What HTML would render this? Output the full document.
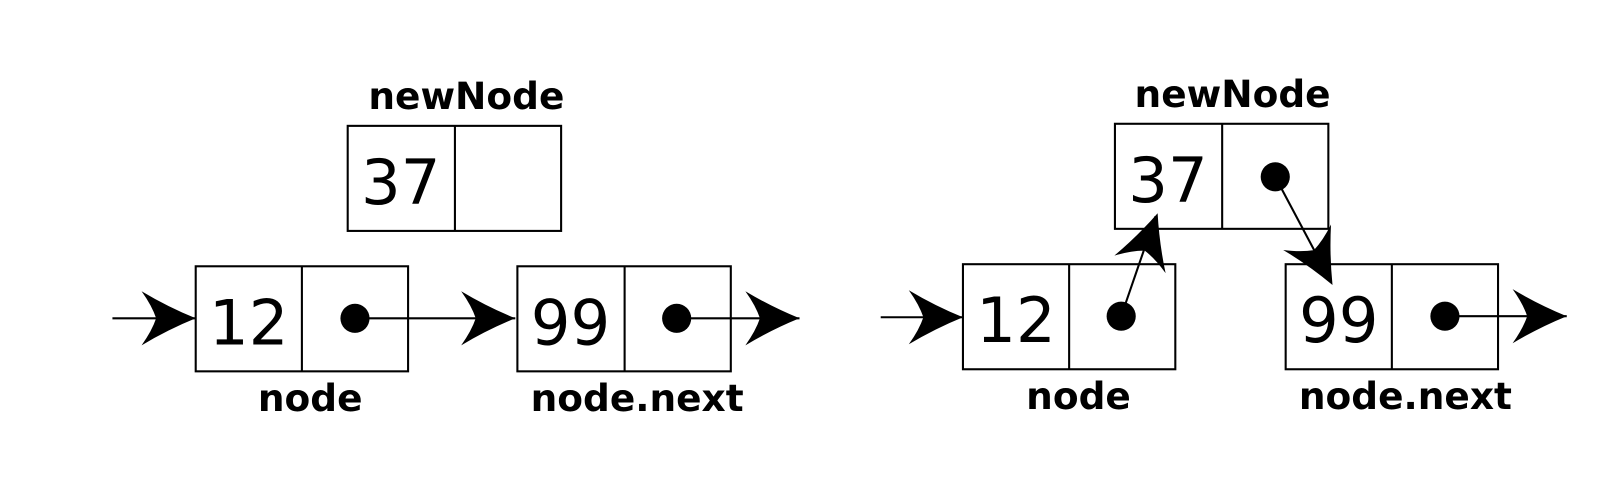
<!DOCTYPE html>
<html><head><style>
html,body{margin:0;padding:0;background:#fff;}
svg{display:block;}
text{font-family:"DejaVu Sans","Liberation Sans",sans-serif;fill:#000;}
.lbl{font-weight:bold;font-size:36px;text-anchor:middle;}
.num{font-size:60px;text-anchor:middle;}
rect{fill:none;stroke:#000;stroke-width:2;}
line{stroke:#000;stroke-width:2;}
</style></head><body>
<svg width="1624" height="492" viewBox="0 0 1560 473" preserveAspectRatio="none" xmlns="http://www.w3.org/2000/svg">
<defs>
<path id="ah" d="M0 0 Q-27 -11 -52 -26 Q-42 -12 -38 0 Q-42 12 -52 26 Q-27 11 0 0 Z" fill="#000"/>
</defs>
<!-- LEFT -->
<text class="lbl" x="448" y="105">newNode</text>
<rect x="334" y="121" width="205" height="101"/>
<line x1="437" y1="121" x2="437" y2="222"/>
<text class="num" x="385" y="196">37</text>

<line x1="108" y1="306" x2="188" y2="306"/>
<use href="#ah" transform="translate(188,306)"/>
<rect x="188" y="256" width="204" height="101"/>
<line x1="290" y1="256" x2="290" y2="357"/>
<text class="num" x="239" y="331">12</text>
<circle cx="341" cy="306" r="14"/>
<line x1="341" y1="306" x2="495" y2="306"/>
<use href="#ah" transform="translate(495,306)"/>
<rect x="497" y="256" width="205" height="101"/>
<line x1="600" y1="256" x2="600" y2="357"/>
<text class="num" x="548" y="331">99</text>
<circle cx="650" cy="306" r="14"/>
<line x1="650" y1="306" x2="768" y2="306"/>
<use href="#ah" transform="translate(768,306)"/>
<text class="lbl" x="298" y="395">node</text>
<text class="lbl" x="612" y="395">node.next</text>

<!-- RIGHT -->
<text class="lbl" x="1184" y="103">newNode</text>
<rect x="1071" y="119" width="205" height="101"/>
<line x1="1174" y1="119" x2="1174" y2="220"/>
<text class="num" x="1122" y="194">37</text>
<circle cx="1225" cy="170" r="14"/>

<line x1="846" y1="305" x2="925" y2="305"/>
<use href="#ah" transform="translate(925,305)"/>
<rect x="925" y="254" width="204" height="101"/>
<line x1="1027" y1="254" x2="1027" y2="355"/>
<text class="num" x="976" y="329">12</text>
<circle cx="1077" cy="304" r="14"/>
<line x1="1077" y1="304" x2="1110" y2="208"/>
<use href="#ah" transform="translate(1112,205) rotate(-71)"/>

<line x1="1225" y1="170" x2="1277" y2="268"/>
<use href="#ah" transform="translate(1280,274) rotate(62)"/>

<rect x="1235" y="254" width="204" height="101"/>
<line x1="1337" y1="254" x2="1337" y2="355"/>
<text class="num" x="1286" y="329">99</text>
<circle cx="1388" cy="304" r="14"/>
<line x1="1388" y1="304" x2="1505" y2="304"/>
<use href="#ah" transform="translate(1505,304)"/>
<text class="lbl" x="1036" y="393">node</text>
<text class="lbl" x="1350" y="393">node.next</text>
</svg>
</body></html>
